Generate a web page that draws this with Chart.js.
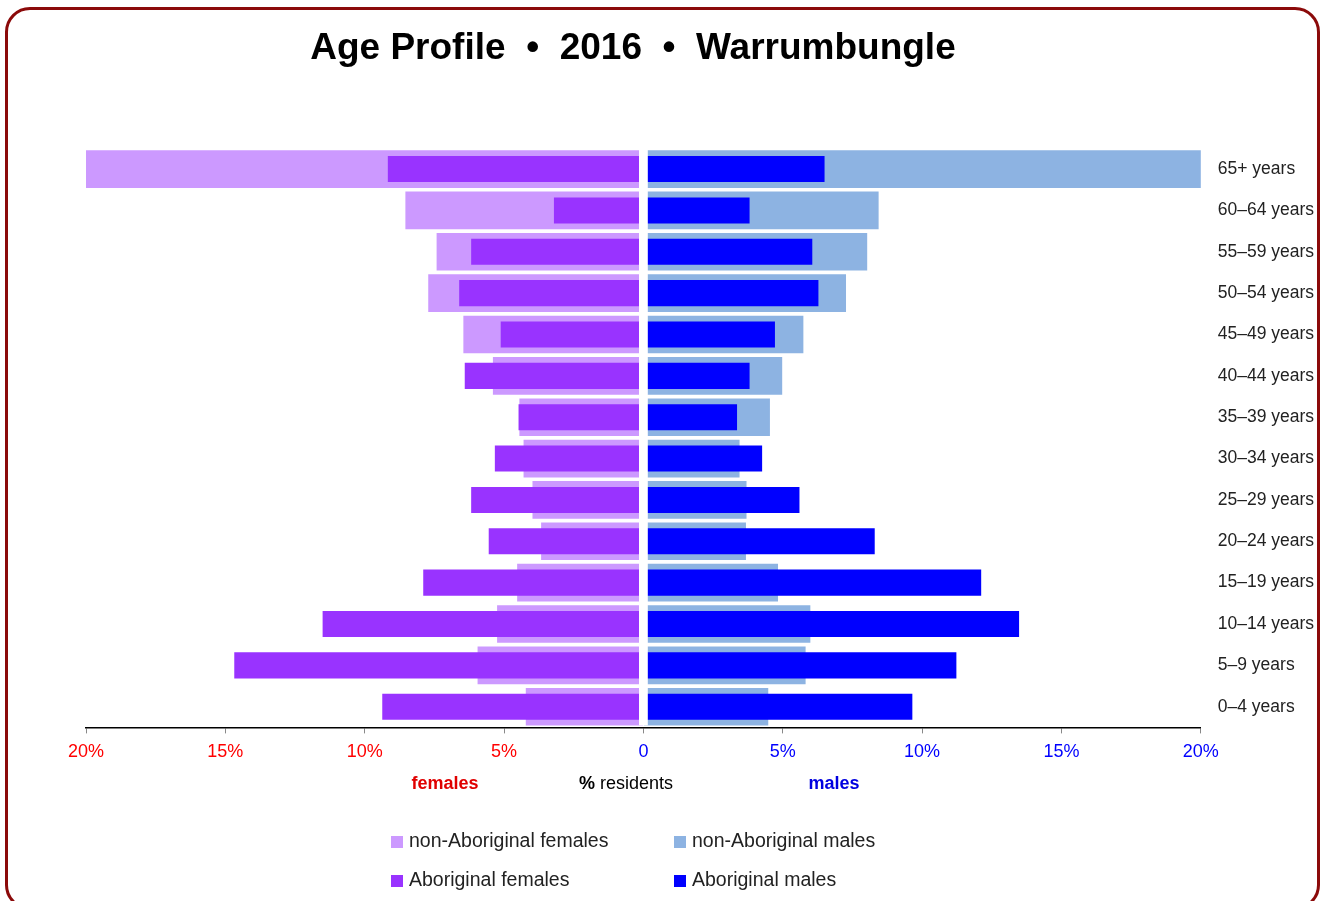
<!DOCTYPE html>
<html>
<head>
<meta charset="utf-8">
<title>Age Profile 2016 Warrumbungle</title>
<script src="https://cdn.jsdelivr.net/npm/chart.js@4.4.1/dist/chart.umd.min.js"></script>
<style>
  body { margin: 0; background: #fff; }
  #wrap { position: relative; width: 1326px; height: 901px; overflow: hidden; font-family: "Liberation Sans", Arial, sans-serif; }
  #frame { position: absolute; left: 5px; top: 7px; width: 1309px; height: 897px; border: 3px solid #8b0a0a; border-radius: 25px; }
  #graph { position: absolute; left: 0; top: 0; }
  #title { position: absolute; left: 0; top: 26px; width: 1266px; text-align: center; font: bold 37px "Liberation Sans", Arial, sans-serif; color: #000; white-space: pre; }
  .sub { position: absolute; top: 772px; font-size: 18px; line-height: 22px; transform: translateX(-50%); white-space: nowrap; }
  .leg { position: absolute; font-size: 19.5px; line-height: 24px; color: #222; white-space: nowrap; }
  .leg i { display: inline-block; width: 12px; height: 12px; margin-right: 6px; vertical-align: -1px; }
</style>
</head>
<body>
<div id="wrap">
  <div id="frame"></div>
  <canvas id="graph" width="1326" height="901"></canvas>
  <div id="title">Age Profile  •  2016  •  Warrumbungle</div>
  <div class="sub" style="left:445px;color:#e00000;font-weight:bold;">females</div>
  <div class="sub" style="left:626px;color:#000;"><b>%</b> residents</div>
  <div class="sub" style="left:834px;color:#0000e0;font-weight:bold;">males</div>
  <div id="legend"></div>
</div>
<script>
// age groups, top row first
const ageGroups = ["65+ years", "60–64 years", "55–59 years", "50–54 years", "45–49 years", "40–44 years",
  "35–39 years", "30–34 years", "25–29 years", "20–24 years", "15–19 years", "10–14 years", "5–9 years", "0–4 years"];

// % of residents in each group
const nonAbFemales = [20.05, 8.54, 7.42, 7.72, 6.46, 5.40, 4.45, 4.30, 3.98, 3.67, 4.53, 5.25, 5.95, 4.22];
const abFemales    = [9.17, 3.21, 6.18, 6.61, 5.12, 6.41, 4.48, 5.33, 6.18, 5.55, 7.90, 11.51, 14.68, 9.37];
const nonAbMales   = [20.07, 8.44, 8.03, 7.27, 5.74, 4.98, 4.54, 3.45, 3.70, 3.68, 4.83, 5.99, 5.82, 4.48];
const abMales      = [6.50, 3.81, 6.06, 6.28, 4.72, 3.81, 3.36, 4.26, 5.60, 8.30, 12.12, 13.48, 11.23, 9.65];

const xMin = -20, xMax = 20, xStep = 5;

const colours = {
  nonAbF: "#cc99ff",
  abF: "#9933ff",
  nonAbM: "#8db3e2",
  abM: "#0000ff"
};

// white strip down the middle, splitting females from males
const centreGap = {
  id: "centreGap",
  afterDatasetsDraw(chart) {
    const ctx = chart.ctx;
    const x0 = chart.scales.x.getPixelForValue(0);
    const area = chart.chartArea;
    ctx.save();
    ctx.fillStyle = "#fff";
    ctx.fillRect(x0 - 4.4, area.top - 4, 8.8, area.bottom - area.top + 2);
    ctx.restore();
  }
};

const neg = arr => arr.map(v => -v);

const datasets = [
  { label: "non-Aboriginal females", data: neg(nonAbFemales), backgroundColor: colours.nonAbF, barPercentage: 0.91, order: 2 },
  { label: "non-Aboriginal males", data: nonAbMales, backgroundColor: colours.nonAbM, barPercentage: 0.91, order: 2 },
  { label: "Aboriginal females", data: neg(abFemales), backgroundColor: colours.abF, barPercentage: 0.63, order: 1 },
  { label: "Aboriginal males", data: abMales, backgroundColor: colours.abM, barPercentage: 0.63, order: 1 }
];

const chart = new Chart(document.getElementById("graph"), {
  type: "bar",
  data: { labels: ageGroups, datasets: datasets },
  options: {
    indexAxis: "y",
    responsive: false,
    animation: false,
    grouped: false,
    categoryPercentage: 1,
    layout: { padding: { top: 148.4, left: 86, right: 0, bottom: 0 } },
    plugins: {
      legend: { display: false },
      tooltip: { enabled: false }
    },
    scales: {
      x: {
        min: xMin,
        max: xMax,
        afterFit: s => { s.height = 173.6; },
        border: { color: "#000", width: 1.5 },
        grid: { drawOnChartArea: false, drawTicks: true, tickLength: 6, color: "#888" },
        ticks: {
          stepSize: xStep,
          padding: 8,
          font: { family: "Liberation Sans", size: 18 },
          color: c => c.tick.value < 0 ? "#ff0000" : "#0000ff",
          callback: v => v === 0 ? "0" : Math.abs(v) + "%"
        }
      },
      y: {
        position: "right",
        afterFit: s => { s.width = 125.2; },
        border: { display: false },
        grid: { display: false, drawTicks: false },
        ticks: {
          padding: 17,
          font: { family: "Liberation Sans", size: 17.5 },
          color: "#222"
        }
      }
    }
  },
  plugins: [centreGap]
});

// legend laid out in two columns like the original
const legendPos = [
  { left: 391, top: 828 },
  { left: 674, top: 828 },
  { left: 391, top: 867 },
  { left: 674, top: 867 }
];
const legend = document.getElementById("legend");
chart.data.datasets.forEach((ds, i) => {
  const item = document.createElement("div");
  item.className = "leg";
  item.style.left = legendPos[i].left + "px";
  item.style.top = legendPos[i].top + "px";
  item.innerHTML = '<i style="background:' + ds.backgroundColor + '"></i>' + ds.label;
  legend.appendChild(item);
});
</script>
</body>
</html>
